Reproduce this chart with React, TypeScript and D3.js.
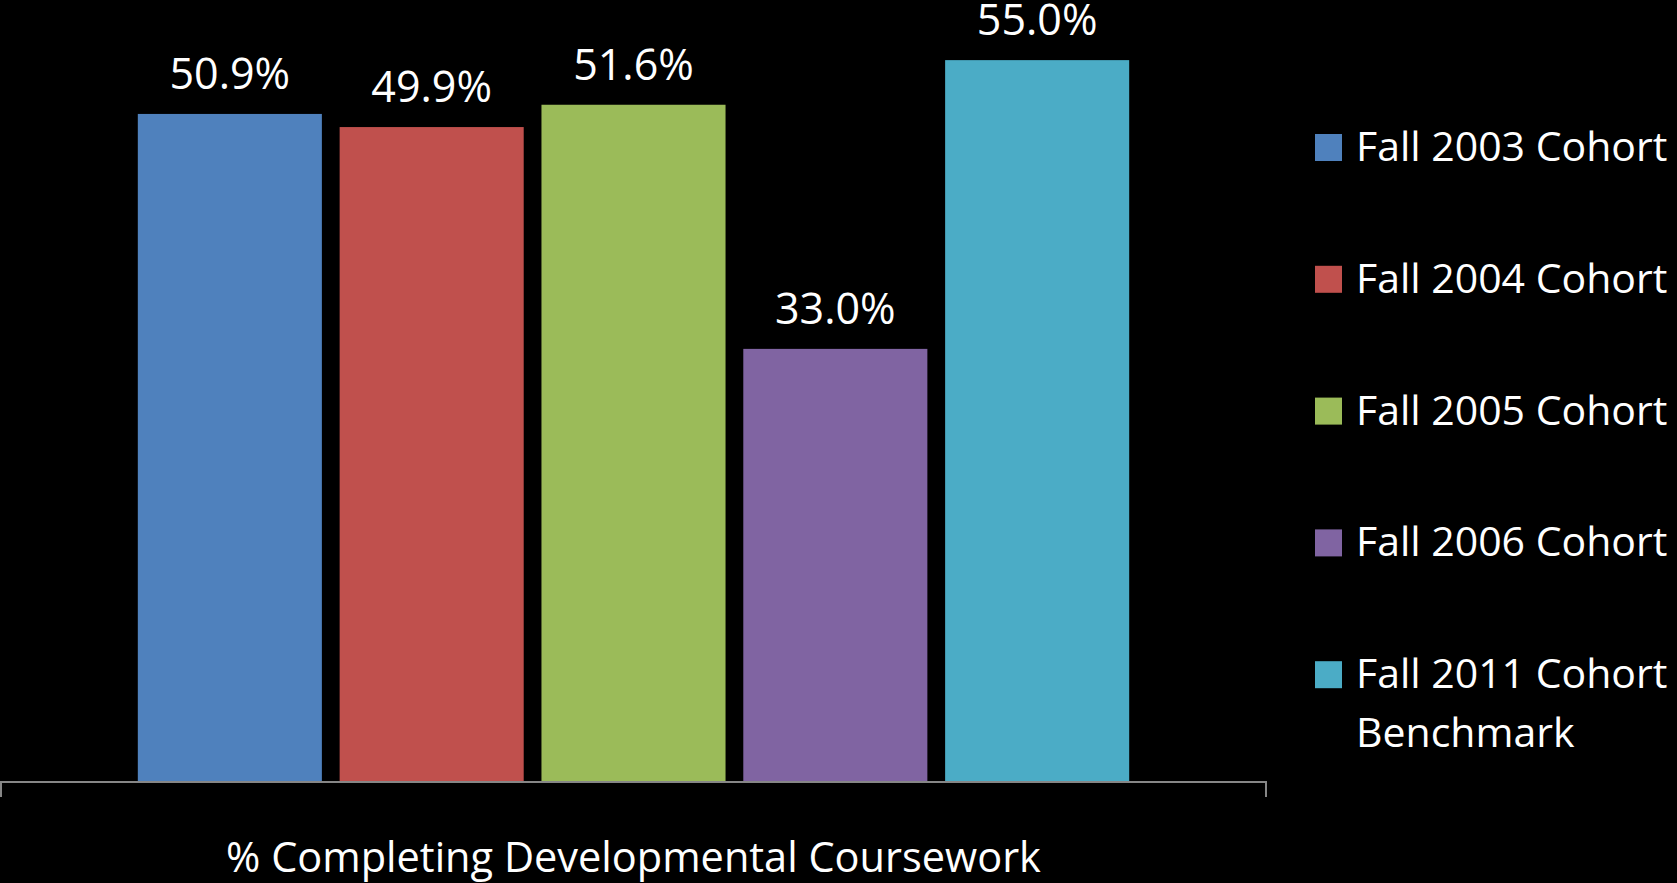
import * as d3 from "d3";
import React, { useEffect, useRef } from "react";

const cohorts = ["Fall 2003 Cohort", "Fall 2004 Cohort", "Fall 2005 Cohort", "Fall 2006 Cohort", "Fall 2011 Cohort Benchmark"];
const values = [50.9, 49.9, 51.6, 33.0, 55.0];
const colors = ["#4F81BD", "#C0504D", "#9BBB59", "#8064A2", "#4BACC6"];
const category = "% Completing Developmental Coursework";

const W = 1677;
const H = 883;
const FONT = "'Open Sans', 'Noto Sans', sans-serif";

export default function App() {
  const svgRef = useRef<SVGSVGElement | null>(null);

  useEffect(() => {
    const svg = d3.select(svgRef.current);
    svg.selectAll("*").remove();

    // plot frame
    const base = 782;
    const axisLeft = 1, axisRight = 1266;

    const y = d3.scaleLinear().domain([0, 60]).range([base, base - 60 * 13.125]);
    const x0 = d3.scaleBand<string>().domain([category]).range([axisLeft, axisRight]).paddingOuter(0.138);
    const x = d3.scaleBand<string>().domain(cohorts).range([x0(category)!, x0(category)! + x0.bandwidth()]).paddingInner(0.088);

    svg.append("rect").attr("width", W).attr("height", H).attr("fill", "#000");

    const g = svg.append("g");
    g.selectAll("rect.bar")
      .data(cohorts)
      .join("rect")
      .attr("class", "bar")
      .attr("x", d => x(d)!)
      .attr("y", (d, i) => y(values[i]))
      .attr("width", x.bandwidth())
      .attr("height", (d, i) => base - y(values[i]))
      .attr("fill", (d, i) => colors[i]);

    // value labels
    g.selectAll("text.val")
      .data(cohorts)
      .join("text")
      .attr("class", "val")
      .attr("x", d => x(d)! + x.bandwidth() / 2)
      .attr("y", (d, i) => y(values[i]) - 25)
      .attr("text-anchor", "middle")
      .attr("fill", "#fff")
      .attr("font-family", FONT)
      .attr("font-size", 43)
      .text((d, i) => values[i].toFixed(1) + "%");

    // category axis
    const axis = svg.append("g").attr("transform", `translate(0,${base})`);
    axis.append("path")
      .attr("d", `M${axisLeft},15V0H${axisRight}V15`)
      .attr("fill", "none")
      .attr("stroke", "#868686")
      .attr("stroke-width", 2);
    axis.append("text")
      .attr("x", x0(category)! + x0.bandwidth() / 2)
      .attr("y", 90)
      .attr("text-anchor", "middle")
      .attr("fill", "#fff")
      .attr("font-family", FONT)
      .attr("font-size", 41.5)
      .text(category);

    // legend
    const legend = svg.append("g").attr("transform", "translate(1315,161)");
    cohorts.forEach((c, i) => {
      const row = legend.append("g").attr("transform", `translate(0,${i * 131.8})`);
      row.append("rect").attr("x", 0).attr("y", -27).attr("width", 27).attr("height", 27).attr("fill", colors[i]);
      const t = row.append("text")
        .attr("x", 41)
        .attr("y", 0)
        .attr("fill", "#fff")
        .attr("font-family", FONT)
        .attr("font-size", 41);
      const words = c.split(" ");
      const lines = words.length > 3 ? [words.slice(0, 3).join(" "), words.slice(3).join(" ")] : [c];
      lines.forEach((l, j) => t.append("tspan").attr("x", 41).attr("dy", j === 0 ? 0 : 59).text(l));
    });
  }, []);

  return (
    <svg ref={svgRef} width={W} height={H} style={{ position: "absolute", left: 0, top: 0, display: "block" }} />
  );
}
